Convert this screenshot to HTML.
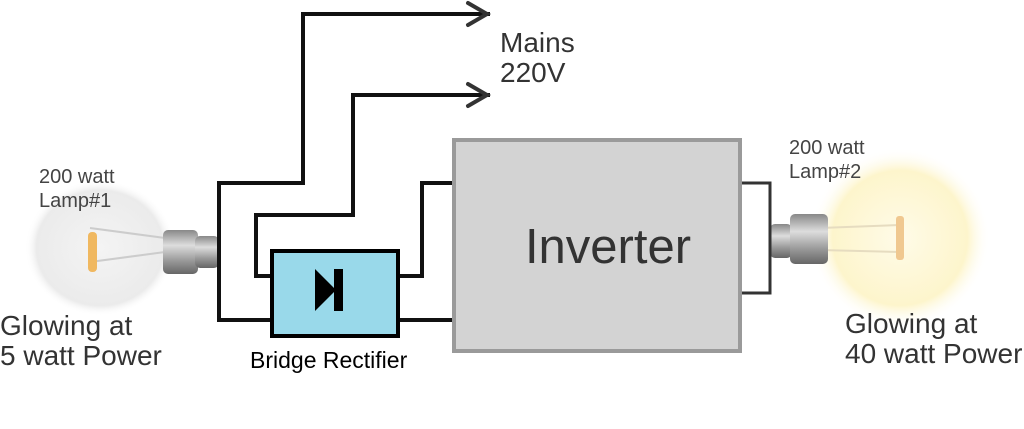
<!DOCTYPE html>
<html><head><style>
body{margin:0;background:#fff;}
svg text{font-family:"Liberation Sans",sans-serif;}
</style></head><body>
<svg width="1024" height="424" viewBox="0 0 1024 424" xmlns="http://www.w3.org/2000/svg">
<defs>
<radialGradient id="glow" cx="0.5" cy="0.5" r="0.5">
<stop offset="0" stop-color="#fffbe8"/><stop offset="0.75" stop-color="#fdf5cc"/><stop offset="1" stop-color="#fff" stop-opacity="0"/>
</radialGradient>
<radialGradient id="bulb1" cx="0.5" cy="0.5" r="0.5">
<stop offset="0" stop-color="#f4f4f4"/><stop offset="0.85" stop-color="#ebebeb"/><stop offset="1" stop-color="#fff" stop-opacity="0"/>
</radialGradient>
<linearGradient id="base" x1="0" y1="0" x2="0" y2="1">
<stop offset="0" stop-color="#888"/><stop offset="0.35" stop-color="#ddd"/><stop offset="0.7" stop-color="#999"/><stop offset="1" stop-color="#666"/>
</linearGradient>
</defs>
<!-- left lamp -->
<ellipse cx="100" cy="248" rx="75" ry="68" fill="url(#bulb1)"/>
<path d="M90 228 L165 238 M90 262 L165 252" stroke="#ccc" stroke-width="2" fill="none"/>
<rect x="88" y="232" width="9" height="40" rx="4" fill="#f0b860"/>
<rect x="163" y="230" width="35" height="44" rx="5" fill="url(#base)"/>
<rect x="195" y="236" width="24" height="32" rx="5" fill="url(#base)"/>
<!-- right lamp -->
<circle cx="900" cy="238" r="90" fill="url(#glow)"/>
<path d="M820 228 L900 225 M820 250 L900 252" stroke="#e6dcc0" stroke-width="2" fill="none"/>
<rect x="896" y="216" width="8" height="44" rx="3" fill="#f0c890"/>
<rect x="770" y="224" width="22" height="34" rx="5" fill="url(#base)"/>
<rect x="790" y="214" width="38" height="50" rx="5" fill="url(#base)"/>
<!-- wires -->
<g fill="none" stroke="#111" stroke-width="4" stroke-linejoin="miter">
<path d="M490 14 H303 V183 H219 V320 H272" />
<path d="M490 95 H353 V215 H256 V276 H272"/>
<path d="M400 276 H422 V183 H455"/>
<path d="M400 320 H455"/>
</g>
<g fill="none" stroke="#333" stroke-width="4" stroke-linecap="round">
<path d="M468 3 L487 14 L468 25"/>
<path d="M468 84 L487 95 L468 106"/>
</g>
<path d="M741 183 H770 V293 H741" fill="none" stroke="#333" stroke-width="3"/>
<!-- inverter -->
<rect x="454" y="140" width="286" height="211" fill="#d3d3d3" stroke="#9a9a9a" stroke-width="4"/>
<text x="608" y="263" font-size="49" fill="#333" text-anchor="middle">Inverter</text>
<!-- rectifier -->
<rect x="272" y="251" width="126" height="85" fill="#99d9ea" stroke="#000" stroke-width="4"/>
<path d="M315 269 L336 290 L315 311 Z" fill="#000"/>
<rect x="334" y="269" width="9" height="42" fill="#000"/>
<text x="250" y="368" font-size="23" fill="#000">Bridge Rectifier</text>
<!-- labels -->
<text x="500" y="52" font-size="28" fill="#333">Mains</text>
<text x="500" y="82" font-size="28" fill="#333">220V</text>
<text x="39" y="183" font-size="20" fill="#444">200 watt</text>
<text x="39" y="207" font-size="20" fill="#444">Lamp#1</text>
<text x="789" y="154" font-size="20" fill="#444">200 watt</text>
<text x="789" y="178" font-size="20" fill="#444">Lamp#2</text>
<text x="0" y="335" font-size="28" fill="#333">Glowing at</text>
<text x="0" y="365" font-size="28" fill="#333">5 watt Power</text>
<text x="845" y="333" font-size="28" fill="#333">Glowing at</text>
<text x="845" y="363" font-size="28" fill="#333">40 watt Power</text>
</svg>
</body></html>
